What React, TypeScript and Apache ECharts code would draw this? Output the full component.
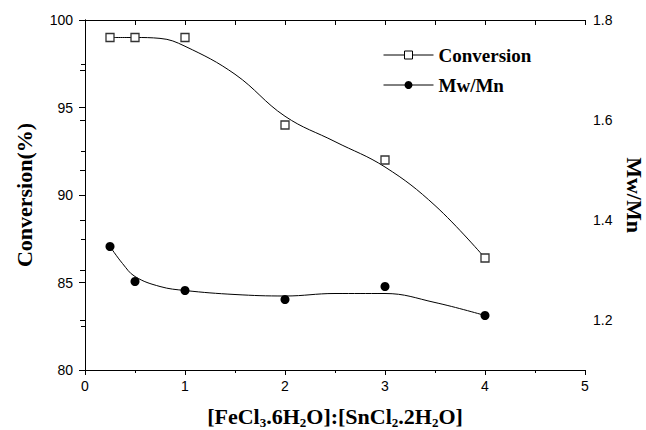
import React, { useEffect, useRef } from "react";
import * as echarts from "echarts";

// Measured points
const ratioX = [0.25, 0.5, 1, 2, 3, 4];
const conversion = [99, 99, 99, 94, 92, 86.4];
const mwmn = [1.347, 1.277, 1.259, 1.241, 1.267, 1.209];

// Fitted curves
const convFitX = [0.25, 0.5, 0.75, 1, 1.5, 2, 2.5, 3, 3.5, 4];
const convFitY = [99, 99, 98.95, 98.5, 96.9, 94.5, 93.05, 91.6, 89.4, 86.4];
const mwFitX = [0.25, 0.375, 0.5, 0.75, 1, 1.5, 2, 2.5, 3, 3.5, 4];
const mwFitY = [1.347, 1.313, 1.287, 1.267, 1.259, 1.251, 1.248, 1.253, 1.253, 1.235, 1.209];

const legendNames = ["Conversion", "Mw/Mn"];

const SERIF = "'Liberation Serif', 'Times New Roman', serif";
const SANS = "'Liberation Sans', Arial, sans-serif";

const pair = (xs: number[], ys: number[]) => xs.map((x, i) => [x, ys[i]]);

export default function App() {
  const ref = useRef<HTMLDivElement>(null);
  useEffect(() => {
    document.body.style.margin = "0";
    const chart = echarts.init(ref.current!, null, { renderer: "svg" });
    const axisLine = { show: true, lineStyle: { color: "#000", width: 1 } };
    const labelStyle = { fontFamily: SANS, fontSize: 14, color: "#000" };
    chart.setOption({
      animation: false,
      backgroundColor: "#fff",
      grid: { left: 85, right: 61, top: 20, bottom: 60, outerBoundsMode: "none", containLabel: false },
      legend: {
        data: [
          {
            name: legendNames[0],
            itemStyle: { color: "#fff", borderColor: "#000", borderWidth: 1 },
            lineStyle: { color: "#000", width: 1 },
          },
          {
            name: legendNames[1],
            itemStyle: { color: "#000", borderWidth: 0 },
            lineStyle: { color: "#000", width: 1 },
          },
        ],
        orient: "vertical",
        left: 383,
        top: 45,
        padding: 0,
        itemWidth: 50,
        itemHeight: 10,
        itemGap: 10,
        selectedMode: false,
        textStyle: { fontFamily: SERIF, fontWeight: "bold", fontSize: 19, color: "#000", lineHeight: 20 },
      },
      xAxis: [
        {
          type: "value",
          position: "bottom",
          min: 0,
          max: 5,
          interval: 1,
          axisLine,
          axisTick: { show: true, inside: false, length: 5, lineStyle: { color: "#000" } },
          minorTick: { show: true, splitNumber: 2, length: 3, lineStyle: { color: "#000" } },
          splitLine: { show: false },
          axisLabel: { ...labelStyle, margin: 9 },
          name: "{t|[FeCl}{s|3}{t|.6H}{s|2}{t|O]:[SnCl}{s|2}{t|.2H}{s|2}{t|O]}",
          nameLocation: "middle",
          nameGap: 35,
          nameTextStyle: {
            rich: {
              t: { fontFamily: SERIF, fontWeight: "bold", fontSize: 22, color: "#000", lineHeight: 22, verticalAlign: "top" },
              s: { fontFamily: SERIF, fontWeight: "bold", fontSize: 13, color: "#000", lineHeight: 24, verticalAlign: "bottom" },
            },
          },
        },
        {
          type: "value",
          position: "top",
          min: 0,
          max: 5,
          interval: 0.5,
          axisLine,
          axisTick: { show: true, inside: true, length: 5, lineStyle: { color: "#000" } },
          axisLabel: { show: false },
          splitLine: { show: false },
        },
      ],
      yAxis: [
        {
          type: "value",
          position: "left",
          min: 80,
          max: 100,
          interval: 5,
          axisLine,
          axisTick: { show: true, inside: false, length: 6, lineStyle: { color: "#000" } },
          minorTick: { show: true, splitNumber: 2, length: 4, lineStyle: { color: "#000" } },
          splitLine: { show: false },
          axisLabel: { ...labelStyle, margin: 12 },
          name: "Conversion(%)",
          nameLocation: "middle",
          nameGap: 50,
          nameTextStyle: { fontFamily: SERIF, fontWeight: "bold", fontSize: 22, color: "#000" },
        },
        {
          type: "value",
          position: "right",
          min: 1.1,
          max: 1.8,
          interval: 0.1,
          axisLine,
          axisTick: { show: true, inside: true, length: 5, lineStyle: { color: "#000" } },
          splitLine: { show: false },
          axisLabel: {
            ...labelStyle,
            margin: 8,
            formatter: (v: number) => {
              const r = Math.round(v * 10);
              return r % 2 === 0 && r >= 12 ? (r / 10).toFixed(1) : "";
            },
          },
          name: "Mw/Mn",
          nameLocation: "middle",
          nameGap: 38,
          nameRotate: -90,
          nameTextStyle: { fontFamily: SERIF, fontWeight: "bold", fontSize: 22, color: "#000" },
        },
      ],
      series: [
        {
          name: legendNames[0],
          type: "line",
          xAxisIndex: 0,
          yAxisIndex: 0,
          smooth: 0.4,
          showSymbol: false,
          symbol: "rect",
          symbolSize: 8,
          itemStyle: { color: "#fff", borderColor: "#000", borderWidth: 1 },
          lineStyle: { color: "#000", width: 1 },
          data: pair(convFitX, convFitY),
          z: 2,
        },
        {
          name: legendNames[1],
          type: "line",
          xAxisIndex: 0,
          yAxisIndex: 1,
          smooth: 0.4,
          showSymbol: false,
          symbol: "circle",
          symbolSize: 8,
          itemStyle: { color: "#000" },
          lineStyle: { color: "#000", width: 1 },
          data: pair(mwFitX, mwFitY),
          z: 2,
        },
        {
          name: legendNames[0],
          type: "scatter",
          xAxisIndex: 0,
          yAxisIndex: 0,
          symbol: "rect",
          symbolSize: 8,
          itemStyle: { color: "#fff", borderColor: "#333", borderWidth: 1.3, opacity: 1 },
          data: pair(ratioX, conversion),
          z: 3,
        },
        {
          name: legendNames[1],
          type: "scatter",
          xAxisIndex: 0,
          yAxisIndex: 1,
          symbol: "circle",
          symbolSize: 9,
          itemStyle: { color: "#000", opacity: 1 },
          data: pair(ratioX, mwmn),
          z: 3,
        },
      ],
    });
    return () => chart.dispose();
  }, []);
  return <div ref={ref} style={{ width: 646, height: 430 }} />;
}
